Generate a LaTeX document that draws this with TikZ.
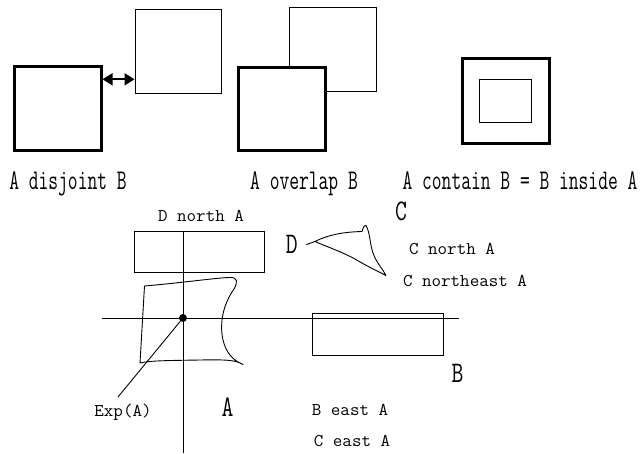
\documentclass[tikz,border=0pt]{standalone}
\usepackage{fontspec}
\usepackage{graphicx}
\usetikzlibrary{arrows.meta}
% vertically stretched lettering
\newcommand\stretchtop[1]{\scalebox{1}[1.5]{#1}}
\newcommand\stretchlow[1]{\scalebox{1}[0.97]{#1}}
\newcommand\stretchbig[1]{\scalebox{1}[1.3]{#1}}
\tikzset{
  thinline/.style={line width=0.9pt, black},
  heavybox/.style={draw, line width=3pt, fill=white, inner sep=0pt},
  lightbox/.style={draw, line width=0.9pt, fill=white, inner sep=0pt},
  toplabel/.style={font=\ttfamily\fontsize{19}{21}\selectfont, inner sep=0pt, anchor=base},
  lowlabel/.style={font=\ttfamily\fontsize{18.5}{20}\selectfont, inner sep=0pt, anchor=base},
  biglabel/.style={font=\ttfamily\fontsize{23}{25}\selectfont, inner sep=0pt, anchor=base},
  sketch/.style={line width=0.9pt, line join=round, line cap=round},
}
\begin{document}
\begin{tikzpicture}[x=1pt, y=-1pt]
\useasboundingbox (0,0) rectangle (640,453);

% --- disjoint ---
\node[heavybox, minimum width=87, minimum height=84] (djA) at (57.5,108) {};
\node[lightbox, minimum width=86, minimum height=84] (djB) at (178,51) {};
\coordinate (arrowlevel) at (118,79.3);
\draw[thinline, line width=1.8pt, {Triangle[length=10pt,width=12pt]}-{Triangle[length=10pt,width=12pt]}]
  (djA.east |- arrowlevel) -- (djB.west |- arrowlevel);
\node[toplabel] (tdisj) at (68,189.5) {\stretchtop{A disjoint B}};

% --- overlap ---
\node[lightbox, minimum width=87, minimum height=84] (ovB) at (332.5,49) {};
\node[heavybox, minimum width=87, minimum height=83] (ovA) at (281.5,108.5) {};
\node[toplabel] (tover) at (304,189.5) {\stretchtop{A overlap B}};

% --- contain ---
\node[heavybox, minimum width=87, minimum height=85] (ctA) at (505.5,100.5) {};
\node[lightbox, minimum width=52, minimum height=43] (ctB) at (505,100.5) {};
\node[toplabel] (tcont) at (520,189.5) {\stretchtop{A contain B = B inside A}};

% --- direction relations ---
\node[lightbox, fill=none, minimum width=130, minimum height=41] (dn) at (199,251.5) {};
\node[lightbox, fill=none, minimum width=131, minimum height=42] (be) at (377.5,334) {};

\coordinate (vtop) at (183,231);
\coordinate (vbot) at (183,453);
\coordinate (hleft) at (102,318);
\coordinate (hright) at (459,318);
\draw[thinline] (vtop) -- (vbot);
\draw[thinline] (hleft) -- (hright);

% region A
\draw[sketch] (140,363) -- (144.5,286)
  .. controls (180,283) and (215,278) .. (229,277.5)
  .. controls (238,277) and (238,282) .. (234,289)
  .. controls (224,303) and (219,322) .. (223,340)
  .. controls (226,352) and (232,360) .. (243,364.5)
  .. controls (236,360) and (226,359.5) .. (200,360)
  .. controls (170,360.5) and (150,360.5) .. (140,363) -- cycle;

% region C with the tail towards D
\draw[sketch] (306.5,244.5) -- (315,241.5)
  .. controls (330,234) and (345,232) .. (362,231.5)
  .. controls (363,228) and (364,225) .. (366,225.5)
  .. controls (370,232) and (370,245) .. (373,253)
  .. controls (376,262) and (382,268) .. (386,275.5)
  .. controls (375,270) and (365,265) .. (355,259)
  .. controls (340,251) and (325,246) .. (315,241.5);

\node[circle, fill=black, inner sep=0pt, minimum size=8pt] (origin) at (183,318) {};
\coordinate (expend) at (118,397);
\draw[thinline] (origin) -- (expend);

\node[lowlabel] (tdn) at (201,221) {\stretchlow{D north A}};
\node[lowlabel] (tcn) at (452,254) {\stretchlow{C north A}};
\node[lowlabel] (tcne) at (465,286) {\stretchlow{C northeast A}};
\node[lowlabel] (tbe) at (350,415.7) {\stretchlow{B east A}};
\node[lowlabel] (tce) at (352,446.7) {\stretchlow{C east A}};
\node[lowlabel] (texp) at (123,416) {\stretchlow{Exp(A)}};

\node[biglabel] (lA) at (227.5,416) {\stretchbig{A}};
\node[biglabel] (lB) at (457.5,382) {\stretchbig{B}};
\node[biglabel] (lC) at (401,220.7) {\stretchbig{C}};
\node[biglabel] (lD) at (291.7,253) {\stretchbig{D}};
\end{tikzpicture}
\end{document}
